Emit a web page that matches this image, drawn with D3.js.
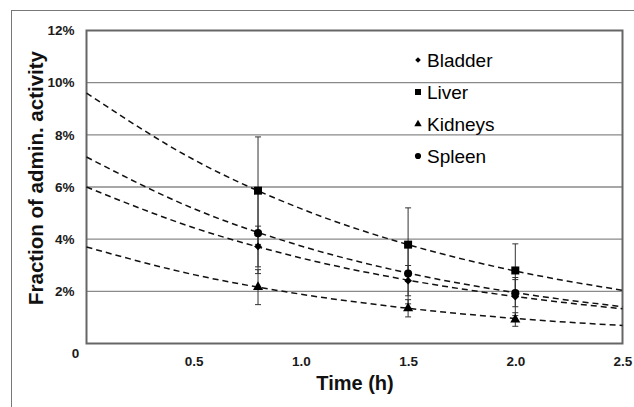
<!DOCTYPE html>
<html><head><meta charset="utf-8">
<script src="https://cdn.jsdelivr.net/npm/d3@7"></script>
<style>body{margin:0;background:#fff;} svg{display:block;font-family:"Liberation Sans",Arial,sans-serif;}</style>
</head><body>
<svg id="chart" width="634" height="407"></svg>
<script>
// ---- data ----
const seriesNames = ["Bladder", "Liver", "Kidneys", "Spleen"];
const times = [0.8, 1.5, 2.0];
const bladder = [3.72, 2.41, 1.80];
const bladderErr = [0.78, 0.58, 0.73];
const liver = [5.86, 3.79, 2.80];
const liverErr = [2.06, 1.41, 1.02];
const kidneys = [2.16, 1.35, 0.92];
const kidneysErr = [0.67, 0.33, 0.26];
const spleen = [4.23, 2.68, 1.93];
const spleenErr = [1.55, 1.16, 0.52];
// fitted (dashed) trend curves
const trendTimes = [0, 0.5, 1.0, 1.5, 2.0, 2.5];
const bladderTrend = [6.0, 4.44, 3.28, 2.43, 1.80, 1.33];
const liverTrend = [9.6, 7.05, 5.17, 3.79, 2.78, 2.04];
const kidneysTrend = [3.7, 2.64, 1.89, 1.35, 0.96, 0.69];
const spleenTrend = [7.15, 5.17, 3.74, 2.70, 1.95, 1.41];
const yTicks = [2, 4, 6, 8, 10, 12];
const xTicks = [0.5, 1.0, 1.5, 2.0, 2.5];

const series = [
  {name: seriesNames[0], vals: bladder, err: bladderErr, trend: bladderTrend, sym: d3.symbolSquare, rot: 45, size: 30, lsize: 16},
  {name: seriesNames[1], vals: liver, err: liverErr, trend: liverTrend, sym: d3.symbolSquare, rot: 0, size: 64, lsize: 36},
  {name: seriesNames[2], vals: kidneys, err: kidneysErr, trend: kidneysTrend, sym: d3.symbolTriangle, rot: 0, size: 44, lsize: 24},
  {name: seriesNames[3], vals: spleen, err: spleenErr, trend: spleenTrend, sym: d3.symbolCircle, rot: 0, size: 52, lsize: 30}
];

const svg = d3.select("#chart");
const L = 86.5, R = 622.5, T = 30.5, B = 343.5;
const x = d3.scaleLinear().domain([0, 2.5]).range([L, R]);
const y = d3.scaleLinear().domain([0, 12]).range([B, T]);

// outer frame
svg.append("rect").attr("x", 11.5).attr("y", 10.5).attr("width", 640).attr("height", 420)
  .attr("fill", "none").attr("stroke", "#777").attr("stroke-width", 1);

// gridlines
svg.append("g").selectAll("line").data(yTicks.slice(0, -1)).join("line")
  .attr("x1", L).attr("x2", R).attr("y1", d => y(d)).attr("y2", d => y(d))
  .attr("stroke", "#8a8a8a").attr("stroke-width", 1.3);

// plot border
svg.append("rect").attr("x", L).attr("y", T).attr("width", R - L).attr("height", B - T)
  .attr("fill", "none").attr("stroke", "#666").attr("stroke-width", 2);

// y axis labels
const yAxis = d3.axisLeft(y).tickValues(yTicks).tickFormat(d => d + "%").tickSize(0).tickPadding(12);
const gy = svg.append("g").attr("transform", `translate(${L},0)`).call(yAxis);
gy.select(".domain").remove();
gy.selectAll("text").attr("font-size", 13.5).attr("font-weight", "bold").attr("fill", "#1a1a1a")
  .attr("font-family", "Liberation Sans, Arial, sans-serif");

// x axis labels
const xAxis = d3.axisBottom(x).tickValues(xTicks).tickFormat(d3.format(".1f")).tickSize(0).tickPadding(13);
const gx = svg.append("g").attr("transform", `translate(0,${B})`).call(xAxis);
gx.select(".domain").remove();
gx.selectAll("text").attr("font-size", 13.5).attr("font-weight", "bold").attr("fill", "#1a1a1a")
  .attr("font-family", "Liberation Sans, Arial, sans-serif");
svg.append("text").attr("x", x(0) - 11).attr("y", y(0) + 14).attr("text-anchor", "middle")
  .attr("font-size", 13.5).attr("font-weight", "bold").attr("fill", "#1a1a1a").text("0");

// axis titles
svg.append("text").attr("x", 355).attr("y", 390).attr("text-anchor", "middle")
  .attr("font-size", 20).attr("font-weight", "bold").attr("fill", "#111").text("Time (h)");
svg.append("text").attr("transform", "translate(43,178) rotate(-90)").attr("text-anchor", "middle")
  .attr("font-size", 20.5).attr("font-weight", "bold").attr("fill", "#111").text("Fraction of admin. activity");

// trend lines
const line = d3.line().x(d => x(d[0])).y(d => y(d[1])).curve(d3.curveMonotoneX);
series.forEach(s => {
  svg.append("path").datum(trendTimes.map((t, i) => [t, s.trend[i]]))
    .attr("d", line).attr("fill", "none").attr("stroke", "#111")
    .attr("stroke-width", 1.5).attr("stroke-dasharray", "6,4");
});

// error bars
series.forEach(s => {
  const g = svg.append("g").attr("stroke", "#333").attr("stroke-width", 1);
  times.forEach((t, i) => {
    const cx = x(t), y1 = y(s.vals[i] + s.err[i]), y2 = y(s.vals[i] - s.err[i]);
    g.append("line").attr("x1", cx).attr("x2", cx).attr("y1", y1).attr("y2", y2);
    g.append("line").attr("x1", cx - 3).attr("x2", cx + 3).attr("y1", y1).attr("y2", y1);
    g.append("line").attr("x1", cx - 3).attr("x2", cx + 3).attr("y1", y2).attr("y2", y2);
  });
});

// markers
series.forEach(s => {
  svg.append("g").selectAll("path").data(times.map((t, i) => [t, s.vals[i]])).join("path")
    .attr("transform", d => `translate(${x(d[0])},${y(d[1])}) rotate(${s.rot})`)
    .attr("d", d3.symbol().type(s.sym).size(s.size)).attr("fill", "#000");
});

// legend
const legY = [66.5, 98.5, 130.5, 162.5];
series.forEach((s, i) => {
  svg.append("path").attr("transform", `translate(418,${legY[i] - 6.5}) rotate(${s.rot})`)
    .attr("d", d3.symbol().type(s.sym).size(s.lsize)).attr("fill", "#000");
  svg.append("text").attr("x", 427).attr("y", legY[i]).attr("font-size", 19).attr("fill", "#000").text(s.name);
});
</script>
</body></html>
